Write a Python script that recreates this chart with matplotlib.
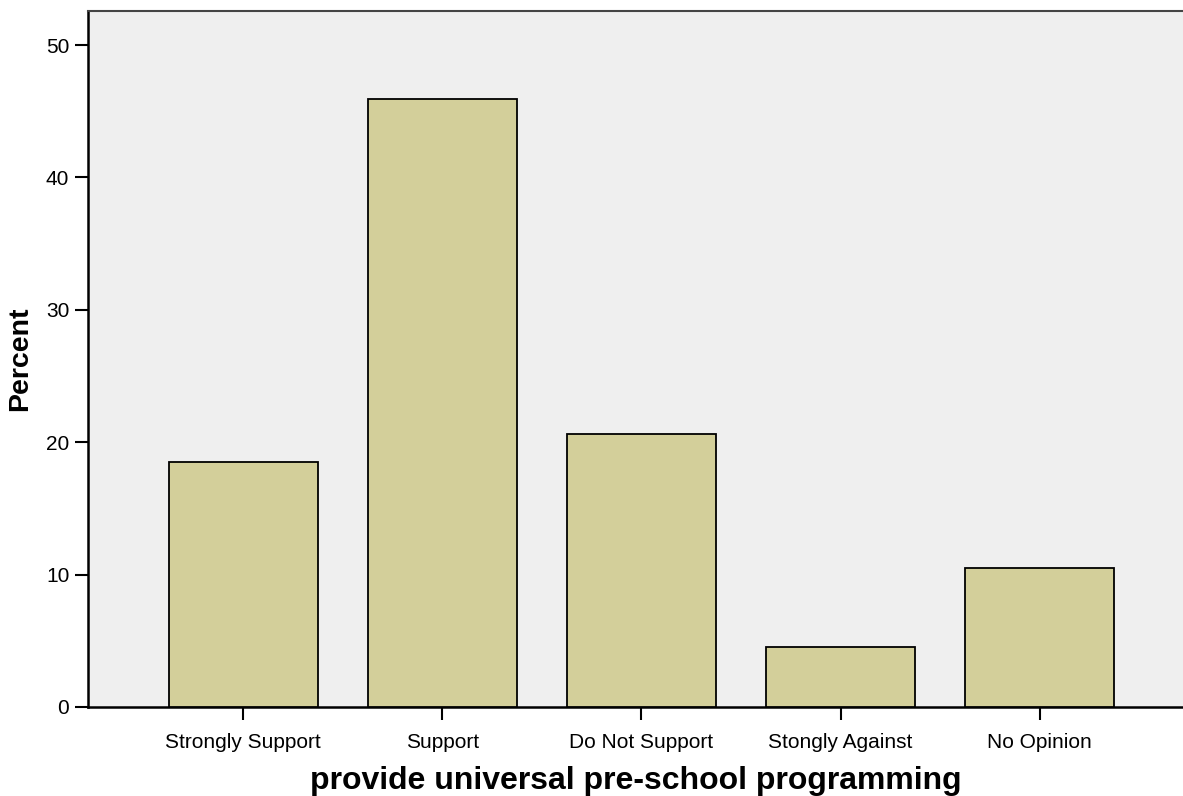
import matplotlib
matplotlib.use("Agg")
import matplotlib.pyplot as plt

categories = ["Strongly Support", "Support", "Do Not Support", "Stongly Against", "No Opinion"]
percent = [18.5, 45.9, 20.6, 4.5, 10.5]
yticks = [0, 10, 20, 30, 40, 50]

plt.rcParams['font.family'] = ['Liberation Sans', 'DejaVu Sans']

W, H = 1183, 796
fig = plt.figure(figsize=(W/100, H/100), dpi=100)
ax = fig.add_axes([88/W, 1-707/H, (1183-88)/W, (707-11)/H])
ax.set_facecolor('#efefef')

x = list(range(len(categories)))
ax.bar(x, percent, width=0.75, color='#d3cf9a', edgecolor='black', linewidth=1.3, zorder=3)

ax.set_xlim(-0.78, 4.72)
ax.set_ylim(0, 52.57)
ax.set_yticks(yticks)
ax.set_xticks(x)
ax.set_xticklabels(categories, fontsize=15)
ax.tick_params(axis='y', labelsize=15, length=9.5, width=1.5, direction='out', pad=4)
ax.tick_params(axis='x', length=9.5, width=1.5, direction='out', pad=9.5)

ax.spines['right'].set_visible(False)
ax.spines['left'].set_linewidth(1.8)
ax.spines['bottom'].set_linewidth(1.8)
ax.spines['top'].set_linewidth(1.5)
ax.spines['top'].set_color('#444444')

ax.set_ylabel('Percent', fontsize=20.5, fontweight='bold', labelpad=9)
ax.set_xlabel('provide universal pre-school programming', fontsize=23, fontweight='bold', labelpad=9.5)

fig.savefig('out.png', dpi=100)
